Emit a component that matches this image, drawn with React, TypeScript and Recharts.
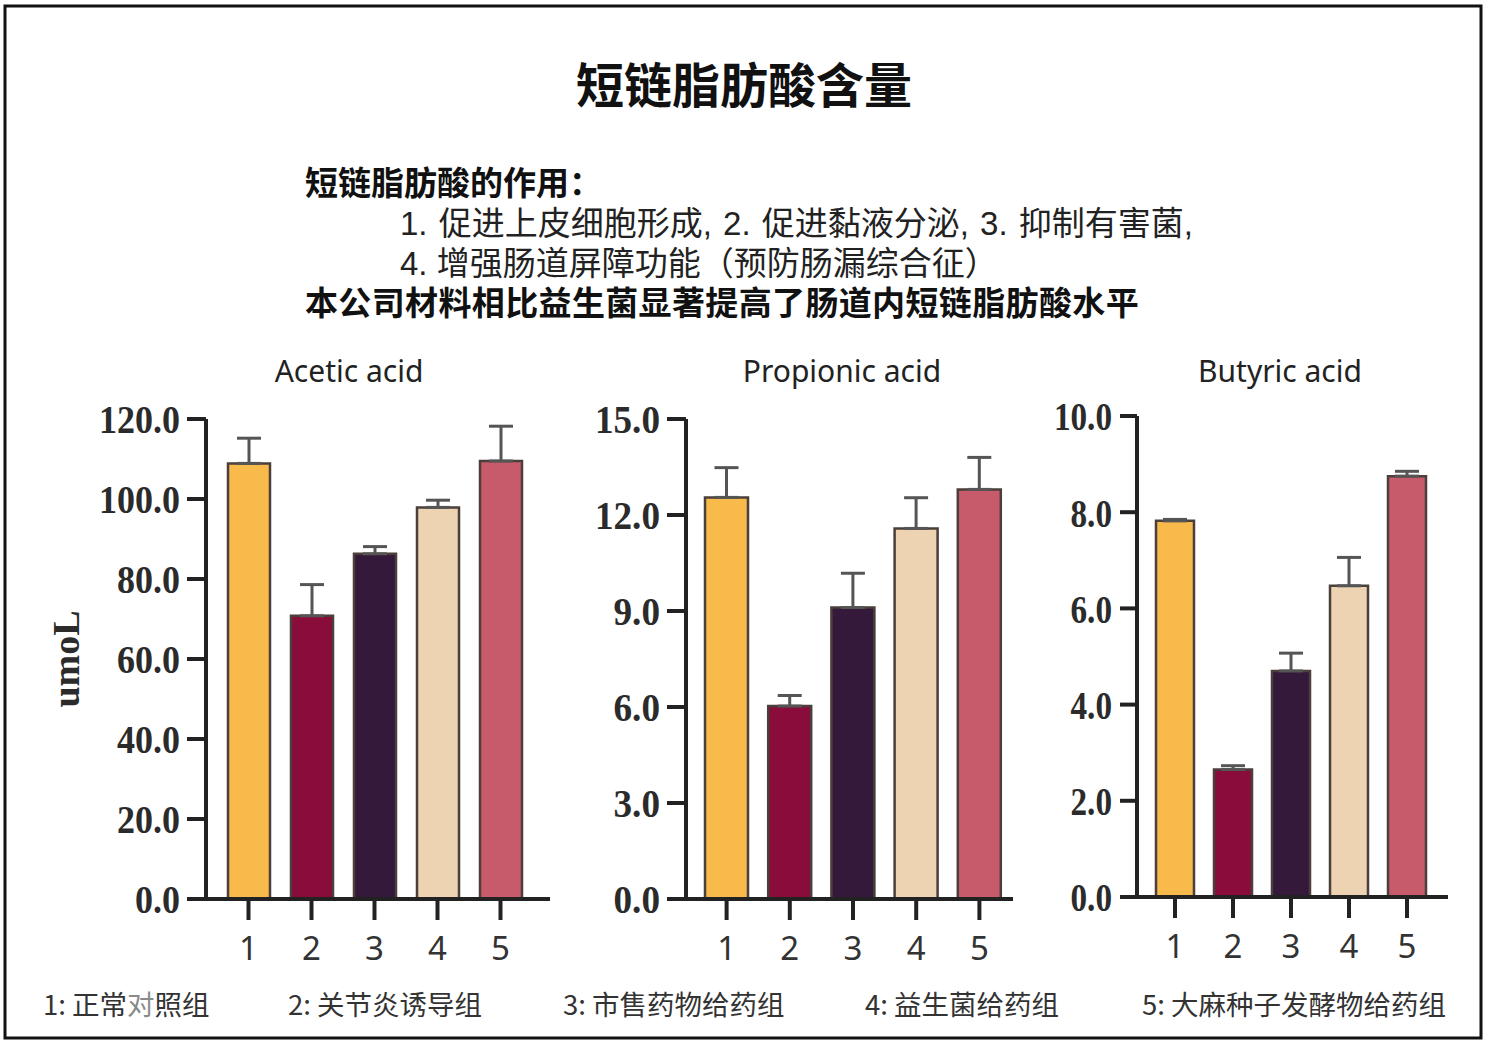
import { BarChart, Bar, XAxis, YAxis, ErrorBar, Cell } from 'recharts';

const groups = ['1', '2', '3', '4', '5'];
const groupColors = ['#F8BA4B', '#8A0C3B', '#35193B', '#EDD3B2', '#C85B6B'];
const legendLabels = ['正常对照组', '关节炎诱导组', '市售药物给药组', '益生菌给药组', '大麻种子发酵物给药组'];

const aceticMean = [108.9, 70.8, 86.3, 97.9, 109.5];
const aceticErr = [6.3, 7.8, 1.8, 1.8, 8.7];
const aceticTicks = [0, 20, 40, 60, 80, 100, 120];

const propionicMean = [12.55, 6.03, 9.11, 11.58, 12.8];
const propionicErr = [0.93, 0.33, 1.07, 0.96, 1.0];
const propionicTicks = [0, 3, 6, 9, 12, 15];

const butyricMean = [7.82, 2.65, 4.7, 6.47, 8.75];
const butyricErr = [0.03, 0.08, 0.37, 0.59, 0.1];
const butyricTicks = [0, 2, 4, 6, 8, 10];

const CJK = '"Noto Sans CJK SC", sans-serif';
const AXIS = '#222';

interface PanelProps {
  mean: number[];
  err: number[];
  ticks: number[];
  left: number;
  top: number;
  yWidth: number;
  plotWidth: number;
  plotHeight: number;
  pad: { left: number; right: number };
  barSize: number;
  yTickSize: number;
  yTickMargin: number;
  squeeze: number;
  yLabel?: string;
}

function Panel(p: PanelProps) {
  const rows = groups.map((g, i) => ({ g, v: p.mean[i], e: p.err[i] }));
  const marginTop = 32;
  const xHeight = 80;

  const yTick = (t: any) => (
    <g transform={`translate(${t.x},${t.y})`}>
      <text
        transform={`scale(${p.squeeze},1)`}
        textAnchor="end"
        dy="0.36em"
        fontFamily='"Liberation Serif", serif'
        fontWeight="bold"
        fontSize={40}
        fill="#2b2b2b"
      >
        {Number(t.payload.value).toFixed(1)}
      </text>
    </g>
  );

  return (
    <div style={{ position: 'absolute', left: p.left, top: p.top - marginTop }}>
      <BarChart
        width={p.yWidth + p.plotWidth + 10}
        height={marginTop + p.plotHeight + xHeight}
        data={rows}
        margin={{ top: marginTop, right: 10, bottom: 0, left: 0 }}
      >
        <XAxis
          dataKey="g"
          height={xHeight}
          padding={p.pad}
          axisLine={{ stroke: AXIS, strokeWidth: 4 }}
          tickLine={{ stroke: AXIS, strokeWidth: 4 }}
          tickSize={21}
          tickMargin={17}
          tick={{ fill: '#333', fontSize: 33, fontFamily: '"Noto Sans", sans-serif' }}
        />
        <YAxis
          domain={[p.ticks[0], p.ticks[p.ticks.length - 1]]}
          ticks={p.ticks}
          width={p.yWidth}
          axisLine={{ stroke: AXIS, strokeWidth: 4 }}
          tickLine={{ stroke: AXIS, strokeWidth: 4 }}
          tickSize={p.yTickSize}
          tickMargin={p.yTickMargin}
          tick={yTick}
          label={
            p.yLabel
              ? (lp: any) => {
                  const vb = lp.viewBox;
                  const cx = vb.x + 25;
                  const cy = vb.y + vb.height / 2;
                  return (
                    <text
                      x={cx}
                      y={cy}
                      transform={`rotate(-90, ${cx}, ${cy})`}
                      textAnchor="middle"
                      dy="0.36em"
                      fontFamily='"Liberation Serif", serif'
                      fontWeight="bold"
                      fontSize={38}
                      fill="#2b2b2b"
                    >
                      {p.yLabel}
                    </text>
                  );
                }
              : undefined
          }
        />
        <Bar dataKey="v" barSize={p.barSize} stroke="#4a3f3a" strokeWidth={2.5} isAnimationActive={false}>
          {rows.map((r, i) => (
            <Cell key={r.g} fill={groupColors[i]} />
          ))}
          <ErrorBar
            dataKey={(d: any) => [0, d.e]}
            direction="y"
            width={12}
            stroke="#555"
            strokeWidth={3}
            isAnimationActive={false}
          />
        </Bar>
      </BarChart>
    </div>
  );
}

export default function App() {
  const legendX = [43, 288, 563, 865, 1142];
  return (
    <div style={{ position: 'absolute', left: 0, top: 0, width: 1487, height: 1045, background: '#fff' }}>
      <svg width={1487} height={1045} style={{ position: 'absolute', left: 0, top: 0 }}>
        <rect x={5} y={6} width={1476} height={1032} fill="none" stroke="#111" strokeWidth={3} />
        <text x={744} y={82} textAnchor="middle" dominantBaseline="central" fontFamily={CJK} fontWeight="bold" fontSize={48} fill="#111">
          短链脂肪酸含量
        </text>
        <text x={349} y={370} textAnchor="middle" dominantBaseline="central" fontFamily='"Noto Sans", sans-serif' fontSize={30} fill="#222">
          Acetic acid
        </text>
        <text x={842} y={370} textAnchor="middle" dominantBaseline="central" fontFamily='"Noto Sans", sans-serif' fontSize={30} fill="#222">
          Propionic acid
        </text>
        <text x={1280} y={370} textAnchor="middle" dominantBaseline="central" fontFamily='"Noto Sans", sans-serif' fontSize={30} fill="#222">
          Butyric acid
        </text>
        {legendLabels.map((lab, i) => (
          <text key={lab} x={legendX[i]} y={1003} dominantBaseline="central" fontFamily={CJK} fontSize={27.5} fill="#333">
            {`${groups[i]}: `}
            {i === 0 ? (
              <>
                正常<tspan fill="#8a8a8a">对</tspan>照组
              </>
            ) : (
              lab
            )}
          </text>
        ))}
      </svg>
      <div
        style={{
          position: 'absolute',
          left: 305,
          top: 164,
          fontFamily: '"Liberation Sans", "Noto Sans CJK SC", sans-serif',
          fontSize: 33,
          lineHeight: '40px',
          color: '#222',
          whiteSpace: 'nowrap',
        }}
      >
        <div style={{ fontWeight: 'bold', color: '#111' }}>短链脂肪酸的作用：</div>
        <div style={{ marginLeft: 95, wordSpacing: 2 }}>1. 促进上皮细胞形成, 2. 促进黏液分泌, 3. 抑制有害菌,</div>
        <div style={{ marginLeft: 95 }}>4. 增强肠道屏障功能（预防肠漏综合征）</div>
        <div style={{ fontWeight: 'bold', color: '#111', letterSpacing: 0.36 }}>本公司材料相比益生菌显著提高了肠道内短链脂肪酸水平</div>
      </div>
      <Panel
        mean={aceticMean}
        err={aceticErr}
        ticks={aceticTicks}
        left={40}
        top={419}
        yWidth={166}
        plotWidth={344}
        plotHeight={480}
        pad={{ left: 11, right: 18 }}
        barSize={42}
        yTickSize={19}
        yTickMargin={7}
        squeeze={0.9}
        yLabel="umoL"
      />
      <Panel
        mean={propionicMean}
        err={propionicErr}
        ticks={propionicTicks}
        left={580}
        top={419}
        yWidth={106}
        plotWidth={327}
        plotHeight={480}
        pad={{ left: 9, right: 2 }}
        barSize={43}
        yTickSize={19}
        yTickMargin={7}
        squeeze={0.93}
      />
      <Panel
        mean={butyricMean}
        err={butyricErr}
        ticks={butyricTicks}
        left={1040}
        top={416}
        yWidth={97}
        plotWidth={311}
        plotHeight={481}
        pad={{ left: 9, right: 12 }}
        barSize={38}
        yTickSize={17}
        yTickMargin={8}
        squeeze={0.83}
      />
    </div>
  );
}
